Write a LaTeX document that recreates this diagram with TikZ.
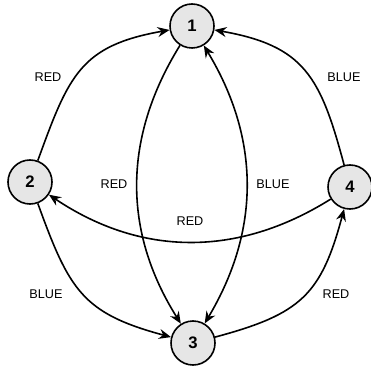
\documentclass[tikz,border=0pt]{standalone}
\usepackage{fontspec}
\setmainfont{Liberation Sans}
\usetikzlibrary{arrows.meta}
\definecolor{stategray}{RGB}{230,230,230}
\tikzset{
  state/.style={circle, draw, line width=1.2pt, fill=stategray, minimum size=33pt, inner sep=0pt, font=\fontsize{12.5}{14}\selectfont\bfseries},
  trans/.style={line width=1.2pt, -{Stealth[length=9pt,width=7.5pt,inset=3pt]}},
  both/.style={line width=1.2pt, {Stealth[length=9pt,width=7.5pt,inset=3pt]}-{Stealth[length=9pt,width=7.5pt,inset=3pt]}},
  colour/.style={font=\fontsize{9.5}{11}\selectfont}
}

\begin{document}
\begin{tikzpicture}[x=0.75pt,y=0.75pt]
        \useasboundingbox (0,0) rectangle (370,-377);
        % Nodes
        \node[state] (s1) at (192,-26)  {1};
        \node[state] (s2) at (30,-182)  {2};
        \node[state] (s3) at (193,-343) {3};
        \node[state] (s4) at (350,-187) {4};

        % Edges
        \draw[trans] (s2) to[out=70, in=190, looseness=1.25]  (s1);
        \draw[trans] (s4) to[out=105, in=-10, looseness=1.25] (s1);
        \draw[trans] (s2) to[out=-70, in=165, looseness=1.25] (s3);
        \draw[trans] (s3) to[out=15, in=-105, looseness=1.25] (s4);
        \draw[trans] (s4) to[bend left=33]  (s2);
        \draw[trans] (s1) to[bend right=32] (s3);
        \draw[both]  (s1) to[bend left=31]  (s3);

        % Labels
        \node[colour] (l21) at (48,-77)   {RED};
        \node[colour] (l41) at (344,-77)  {BLUE};
        \node[colour] (l13) at (114,-184) {RED};
        \node[colour] (l31) at (273,-184) {BLUE};
        \node[colour] (l42) at (190,-221) {RED};
        \node[colour] (l23) at (46,-294)  {BLUE};
        \node[colour] (l34) at (336,-294) {RED};
\end{tikzpicture}
\end{document}
